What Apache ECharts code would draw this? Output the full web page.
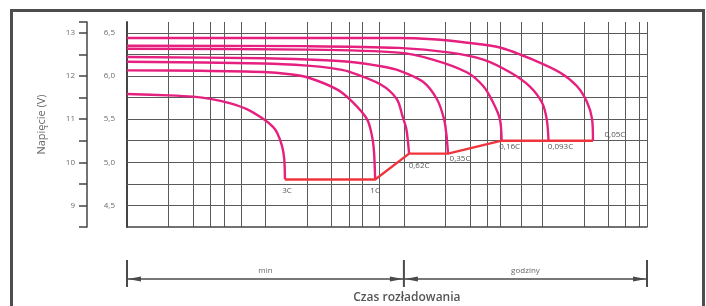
<!DOCTYPE html>
<html>
<head>
<meta charset="utf-8">
<script src="https://cdn.jsdelivr.net/npm/echarts@6/dist/echarts.min.js"></script>
<style>
  html, body { margin: 0; padding: 0; background: #fff; }
  #chart { width: 706px; height: 306px; }
</style>
</head>
<body>
<div id="chart"></div>
<script>
// czas rozładowania w minutach, napięcie akumulatora 12 V
const curveNames = ['3C', '1C', '0,62C', '0,35C', '0,16C', '0,093C', '0,05C'];

const curve3C = [[0.6, 11.58], [1.2, 11.55], [1.8, 11.52], [2.4, 11.47], [3.3, 11.37], [4.4, 11.23], [5.8, 11.0], [6.8, 10.82], [7.3, 10.68], [7.9, 10.38], [8.2, 10.08], [8.3, 9.6]];
const curve1C = [[0.6, 12.13], [2, 12.12], [5.8, 12.09], [9, 12.04], [12, 11.97], [19.7, 11.69], [25.7, 11.39], [32.5, 11.0], [35.3, 10.61], [36.5, 10.24], [37.2, 9.6]];
const curve062C = [[0.6, 12.33], [5.8, 12.29], [12, 12.24], [18, 12.18], [24, 12.1], [40.8, 11.8], [53.4, 11.46], [58.6, 11.07], [62.5, 10.77], [65.4, 10.2]];
const curve035C = [[0.6, 12.44], [5.8, 12.41], [12, 12.38], [24, 12.33], [42, 12.22], [55, 12.13], [82, 11.87], [104, 11.46], [117, 11.0], [122, 10.61], [125, 10.2]];
const curve016C = [[0.6, 12.63], [12, 12.61], [55, 12.54], [97, 12.38], [172, 12.08], [225, 11.76], [264, 11.39], [296, 11.0], [305, 10.5]];
const curve0093C = [[0.6, 12.7], [12, 12.69], [55, 12.65], [130, 12.54], [225, 12.38], [353, 12.08], [486, 11.76], [595, 11.39], [645, 11.0], [665, 10.5]];
const curve005C = [[0.6, 12.88], [55, 12.88], [97, 12.85], [172, 12.77], [296, 12.66], [511, 12.38], [804, 12.08], [1068, 11.76], [1263, 11.39], [1372, 11.0], [1392, 10.5]];

// napięcie końcowe (czerwona linia)
const cutoffLine = [[8.3, 9.6], [37.2, 9.6], [65.4, 10.2], [125, 10.2], [305, 10.5], [665, 10.5], [1392, 10.5]];

// siatka i opisy osi
const gridX = [1.2, 1.8, 2.4, 3, 4, 6, 12, 18, 24, 30, 40, 60, 120, 180, 240, 300, 420, 600, 1200, 1800, 2400, 3000, 3420];
const gridY = [9, 9.5, 10, 10.5, 11, 11.5, 12, 12.5, 13];
const xLabelValues = [0.6, 1.2, 3, 6, 12, 30, 60, 120, 300, 600, 1200, 3420];
const xLabelTexts = ['0,6', '1,2', '3', '6', '12', '30', '1', '2', '5', '10', '20', '24'];

const curves = [curve3C, curve1C, curve062C, curve035C, curve016C, curve0093C, curve005C];
const labelOffsets = [[2, 0], [0, 0], [10, 1], [12, -6], [8, -5], [12, -5], [22, -17]];

const PINK = '#e6207f';
const RED = '#f0343c';
const TXT = '#555';
const FONT = '"Open Sans", "DejaVu Sans", sans-serif';

const chart = echarts.init(document.getElementById('chart'));

const series = curves.map((pts, i) => ({
  name: curveNames[i],
  type: 'line',
  yAxisIndex: 0,
  data: pts,
  smooth: 0.3,
  showSymbol: false,
  z: 3,
  lineStyle: { color: PINK, width: 2.4 },
  markPoint: {
    symbol: 'circle',
    symbolSize: 0,
    silent: true,
    data: [{ coord: pts[pts.length - 1], name: curveNames[i] }],
    label: {
      show: true,
      formatter: curveNames[i],
      position: 'bottom',
      distance: 7,
      offset: labelOffsets[i],
      color: TXT,
      fontSize: 8,
      fontFamily: FONT
    }
  }
}));

series.push({
  name: 'cutoff',
  type: 'line',
  yAxisIndex: 0,
  data: cutoffLine,
  showSymbol: false,
  z: 4,
  lineStyle: { color: RED, width: 2.4 }
});

// poziome linie siatki (pod krzywymi)
series.push({
  name: 'gridY',
  type: 'line',
  yAxisIndex: 0,
  data: [],
  z: 1,
  markLine: {
    z: 1,
    silent: true,
    symbol: 'none',
    label: { show: false },
    lineStyle: { color: '#5a5a5a', width: 1, type: 'solid' },
    data: gridY.map(v => ({ yAxis: v }))
  }
});

const option = {
  animation: false,
  grid: { left: 127, right: 59, top: 22, bottom: 79 },
  xAxis: {
    type: 'log',
    logBase: 10,
    min: 0.6,
    max: 3420,
    axisLine: { show: true, lineStyle: { color: '#444', width: 1.5 } },
    axisTick: { show: false, customValues: gridX },
    splitLine: { show: true, lineStyle: { color: '#5a5a5a', width: 1 } },
    axisLabel: {
      customValues: xLabelValues,
      formatter: (v, i) => xLabelTexts[i],
      color: '#6a6a6a',
      fontSize: 8,
      fontFamily: FONT,
      margin: 8
    }
  },
  yAxis: [
    {
      type: 'value',
      position: 'left',
      offset: 40,
      min: 8.5,
      max: 13.25,
      interval: 0.5,
      name: 'Napięcie (V)',
      nameLocation: 'middle',
      nameGap: 40,
      nameTextStyle: { color: '#666', fontSize: 11, fontFamily: FONT },
      axisLine: { show: true, lineStyle: { color: '#444', width: 1.5 } },
      axisTick: { show: true, length: 8, lineStyle: { color: '#444', width: 1.5 } },
      splitLine: { show: false },
      axisLabel: {
        formatter: v => (Number.isInteger(v) ? String(v) : ''),
        color: '#6a6a6a',
        fontSize: 8,
        fontFamily: FONT,
        margin: 12
      }
    },
    {
      type: 'value',
      position: 'left',
      offset: 0,
      min: 4.25,
      max: 6.625,
      interval: 0.25,
      axisLine: { show: true, lineStyle: { color: '#444', width: 2 } },
      axisTick: { show: false },
      splitLine: { show: false },
      axisLabel: {
        formatter: v => (Math.abs(v * 2 - Math.round(v * 2)) < 1e-6 ? v.toFixed(1).replace('.', ',') : ''),
        color: '#6a6a6a',
        fontSize: 8,
        fontFamily: FONT,
        margin: 12
      }
    }
  ],
  series: series
};

chart.setOption(option);

// opis czasu pod osią X
const px = v => chart.convertToPixel({ xAxisIndex: 0 }, v);
const xa = px(xLabelValues[0]);
const xb = px(60);
const xc = px(xLabelValues[xLabelValues.length - 1]);
const yArr = 279;
const DARK = '#4a4a4a';

function arrow(xTip, dir) {
  return {
    type: 'polygon',
    shape: { points: [[xTip, yArr], [xTip + dir * 13, yArr - 2.5], [xTip + dir * 13, yArr + 2.5]] },
    style: { fill: DARK }
  };
}
function bar(x) {
  return { type: 'line', shape: { x1: x, y1: 260, x2: x, y2: 287 }, style: { stroke: DARK, lineWidth: 2 } };
}

chart.setOption({
  graphic: [
    {
      type: 'rect',
      shape: { x: 11.5, y: 10.5, width: 692, height: 330 },
      style: { fill: 'none', stroke: '#4d4d4d', lineWidth: 3 },
      silent: true
    },
    bar(xa), bar(xb), bar(xc),
    { type: 'line', shape: { x1: xa, y1: yArr, x2: xc, y2: yArr }, style: { stroke: DARK, lineWidth: 1.5 } },
    arrow(xa + 1, 1), arrow(xb - 1, -1), arrow(xb + 1, 1), arrow(xc - 1, -1),
    {
      type: 'text', x: (xa + xb) / 2, y: 271,
      style: { text: 'min', fill: '#666', fontSize: 8, fontFamily: FONT, align: 'center', verticalAlign: 'middle' }
    },
    {
      type: 'text', x: (xb + xc) / 2, y: 271,
      style: { text: 'godziny', fill: '#666', fontSize: 8, fontFamily: FONT, align: 'center', verticalAlign: 'middle' }
    },
    {
      type: 'text', x: xb + 3, y: 298,
      style: { text: 'Czas rozładowania', fill: '#555', fontSize: 12, fontWeight: 600, fontFamily: FONT, align: 'center', verticalAlign: 'middle' }
    }
  ]
});
</script>
</body>
</html>
